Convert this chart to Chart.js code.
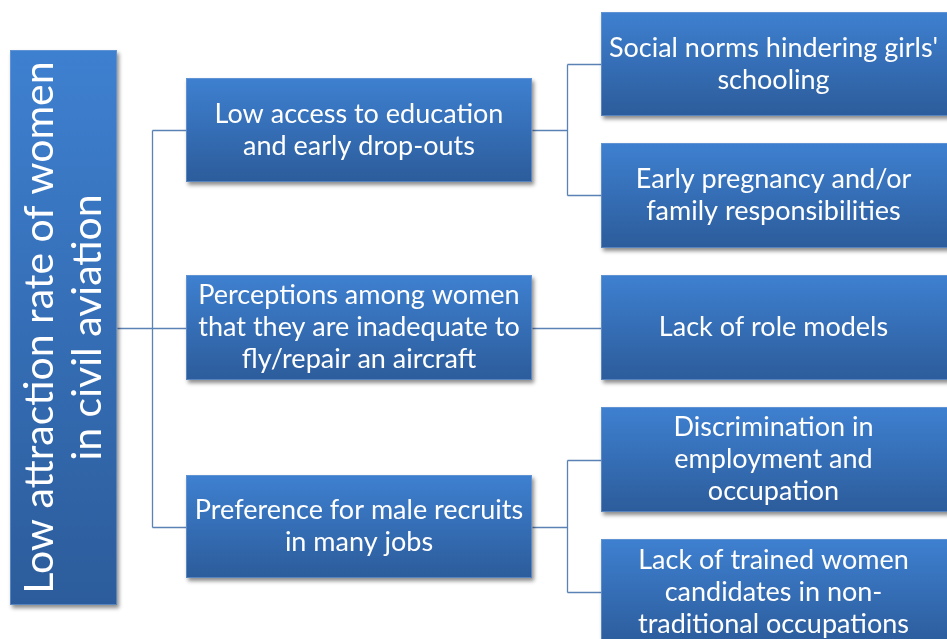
<!DOCTYPE html>
<html>
<head>
<meta charset="utf-8">
<script src="https://cdn.jsdelivr.net/npm/chart.js@4.4.1/dist/chart.umd.min.js"></script>
<style>
  html, body { margin: 0; padding: 0; background: #fff; }
  #wrap { width: 947px; height: 639px; }
</style>
</head>
<body>
<div id="wrap"><canvas id="myChart"></canvas></div>
<script>
// tree content
const rootLines = ['Low attraction rate of women', 'in civil aviation'];
const causeLines = [
  ['Low access to education', 'and early drop-outs'],
  ['Perceptions among women', 'that they are inadequate to', 'fly/repair an aircraft'],
  ['Preference for male recruits', 'in many jobs']
];
const subLines = [
  ["Social norms hindering girls'", 'schooling'],
  ['Early pregnancy and/or', 'family responsibilities'],
  ['Lack of role models'],
  ['Discrimination in', 'employment and', 'occupation'],
  ['Lack of trained women', 'candidates in non-', 'traditional occupations']
];
const subParent = [0, 0, 1, 2, 2];

// layout (in page units, 0..947 x 0..639)
const rootBox = { x0: 10, x1: 117, y0: 50, y1: 605 };
const causeCol = { x0: 186, x1: 532 };
const causeRows = [[78, 182], [275, 380], [475, 578]];
const subCol = { x0: 601, x1: 950 };
const subRows = [[12, 116], [143, 248], [275, 380], [407, 512], [539, 645]];
const trunk1X = 152, trunk2X = 567;

const lineColor = '#5b82b5';
const fontFam = 'Lato, "Open Sans", sans-serif';

function drawBox(ctx, xs, ys, x0, x1, y0, y1) {
  const px0 = xs.getPixelForValue(x0), px1 = xs.getPixelForValue(x1);
  const py0 = ys.getPixelForValue(y0), py1 = ys.getPixelForValue(y1);
  const g = ctx.createLinearGradient(0, py0, 0, py1);
  g.addColorStop(0, '#3e80d0');
  g.addColorStop(1, '#2c5c9b');
  ctx.save();
  ctx.shadowColor = 'rgba(0,0,0,0.45)';
  ctx.shadowBlur = 4;
  ctx.shadowOffsetX = 2;
  ctx.shadowOffsetY = 3;
  ctx.fillStyle = g;
  ctx.fillRect(px0, py0, px1 - px0, py1 - py0);
  ctx.restore();
  ctx.strokeStyle = 'rgba(120,160,215,0.6)';
  ctx.lineWidth = 1;
  ctx.strokeRect(px0 + 0.5, py0 + 0.5, px1 - px0 - 1, py1 - py0 - 1);
  return { px0, px1, py0, py1 };
}

function drawText(ctx, lines, cx, cy, size, lh) {
  ctx.fillStyle = '#fff';
  ctx.font = size + 'px ' + fontFam;
  ctx.textAlign = 'center';
  ctx.textBaseline = 'middle';
  const start = cy - (lines.length - 1) * lh / 2;
  lines.forEach((t, i) => ctx.fillText(t, cx, start + i * lh));
}

function seg(ctx, xs, ys, pts) {
  ctx.beginPath();
  pts.forEach((p, i) => {
    const x = Math.round(xs.getPixelForValue(p[0])) + 0.5;
    const y = Math.round(ys.getPixelForValue(p[1])) + 0.5;
    if (i === 0) ctx.moveTo(x, y); else ctx.lineTo(x, y);
  });
  ctx.stroke();
}

const treePlugin = {
  id: 'tree',
  afterDraw(chart) {
    const ctx = chart.ctx, xs = chart.scales.x, ys = chart.scales.y;
    const mid = r => (r[0] + r[1]) / 2;

    // connectors
    ctx.save();
    ctx.strokeStyle = lineColor;
    ctx.lineWidth = 1.3;
    seg(ctx, xs, ys, [[rootBox.x1, mid(causeRows[1])], [trunk1X, mid(causeRows[1])]]);
    seg(ctx, xs, ys, [[trunk1X, mid(causeRows[0])], [trunk1X, mid(causeRows[2])]]);
    causeRows.forEach(r => seg(ctx, xs, ys, [[trunk1X, mid(r)], [causeCol.x0, mid(r)]]));
    causeRows.forEach((r, ci) => {
      const kids = subParent.map((p, i) => p === ci ? i : -1).filter(i => i >= 0);
      if (kids.length === 1) {
        seg(ctx, xs, ys, [[causeCol.x1, mid(r)], [subCol.x0, mid(r)]]);
      } else {
        seg(ctx, xs, ys, [[causeCol.x1, mid(r)], [trunk2X, mid(r)]]);
        seg(ctx, xs, ys, [[trunk2X, mid(subRows[kids[0]])], [trunk2X, mid(subRows[kids[kids.length - 1]])]]);
        kids.forEach(k => seg(ctx, xs, ys, [[trunk2X, mid(subRows[k])], [subCol.x0, mid(subRows[k])]]));
      }
    });
    ctx.restore();

    // root
    const rb = drawBox(ctx, xs, ys, rootBox.x0, rootBox.x1, rootBox.y0, rootBox.y1);
    ctx.save();
    ctx.translate((rb.px0 + rb.px1) / 2, (rb.py0 + rb.py1) / 2);
    ctx.rotate(-Math.PI / 2);
    drawText(ctx, rootLines, 0, 0, 41, 48);
    ctx.restore();

    causeRows.forEach((r, i) => {
      const b = drawBox(ctx, xs, ys, causeCol.x0, causeCol.x1, r[0], r[1]);
      drawText(ctx, causeLines[i], (b.px0 + b.px1) / 2, (b.py0 + b.py1) / 2, 27, 32);
    });
    subRows.forEach((r, i) => {
      const b = drawBox(ctx, xs, ys, subCol.x0, subCol.x1, r[0], r[1]);
      const cx = xs.getPixelForValue((subCol.x0 + 946) / 2);
      drawText(ctx, subLines[i], cx, (b.py0 + b.py1) / 2, 27, 32);
    });
  }
};

new Chart(document.getElementById('myChart'), {
  type: 'scatter',
  data: { datasets: [{ data: [], pointRadius: 0 }] },
  options: {
    responsive: true,
    maintainAspectRatio: false,
    animation: false,
    layout: { padding: 0 },
    scales: {
      x: { type: 'linear', min: 0, max: 947, display: false },
      y: { type: 'linear', min: 0, max: 639, reverse: true, display: false }
    },
    plugins: { legend: { display: false }, tooltip: { enabled: false } }
  },
  plugins: [treePlugin]
});
</script>
</body>
</html>
